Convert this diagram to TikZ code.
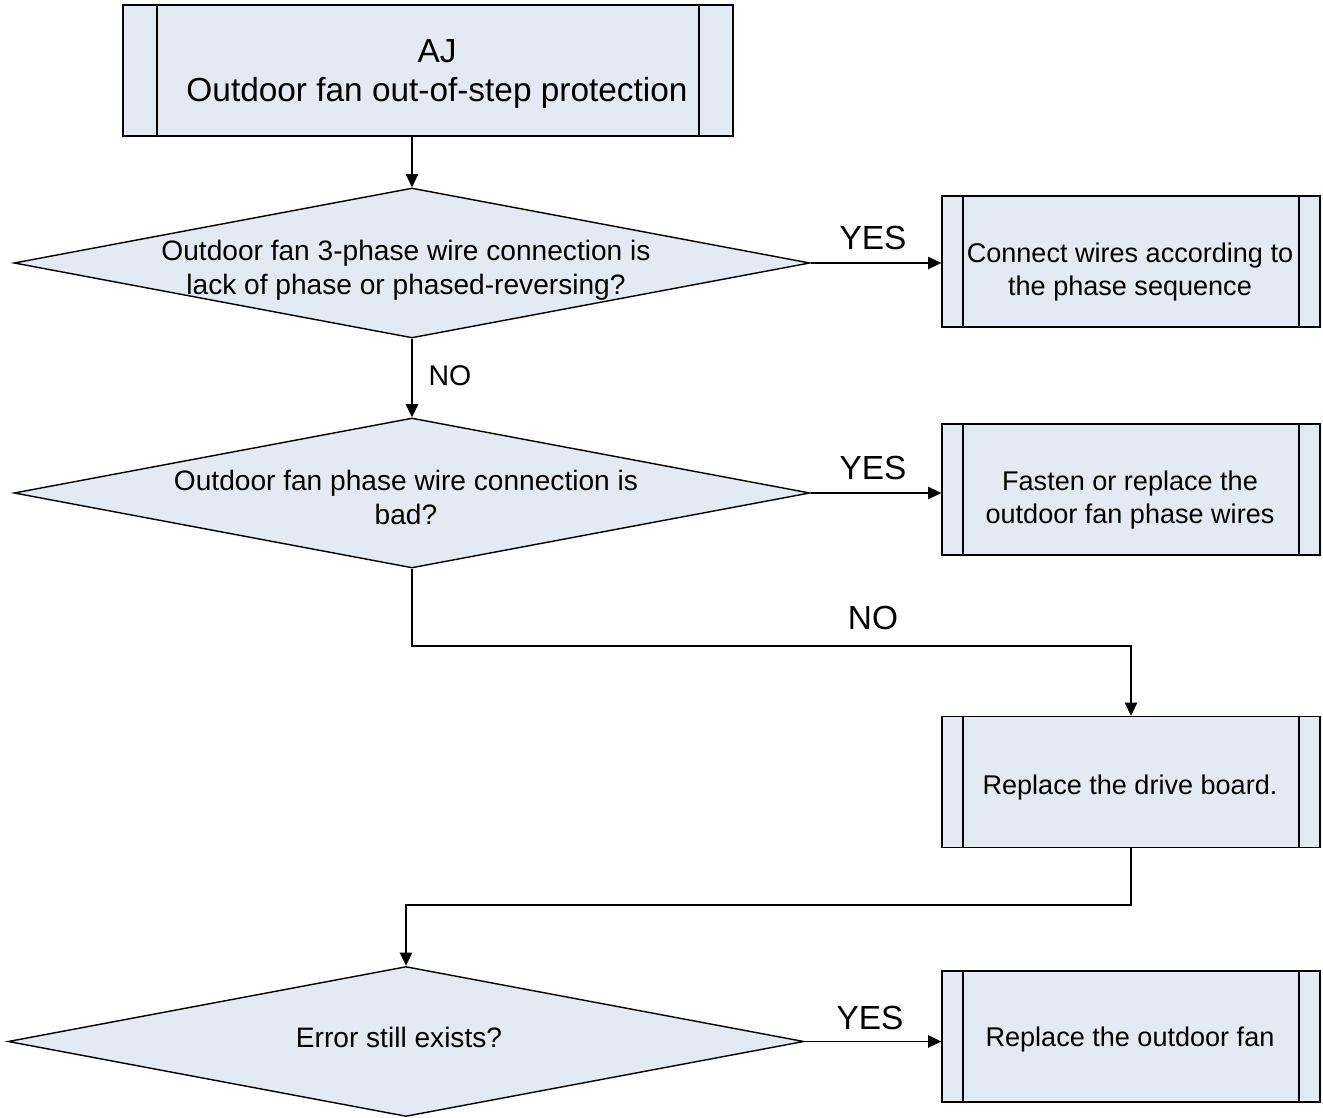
\documentclass[tikz,border=0pt]{standalone}
\usepackage{fontspec}
\setmainfont{Liberation Sans}
\usetikzlibrary{shapes.geometric,arrows.meta}
\definecolor{boxfill}{RGB}{228,234,244}
\begin{document}
\begin{tikzpicture}[x=0.02cm, y=-0.02cm, line width=0.8pt, >={Triangle[length=7.5pt,width=7pt]},
    bars/.style={path picture={
        \draw ([xshift=#1]path picture bounding box.north west) -- ([xshift=#1]path picture bounding box.south west);
        \draw ([xshift=-#1]path picture bounding box.north east) -- ([xshift=-#1]path picture bounding box.south east);}},
    process/.style={draw, fill=boxfill, inner sep=0pt, minimum width=7.56cm, minimum height=2.62cm, bars=0.42cm},
    headbox/.style={draw, fill=boxfill, inner sep=0pt, minimum width=12.2cm, minimum height=2.62cm, bars=0.68cm},
    decision/.style={draw, fill=boxfill, diamond, inner sep=0pt, minimum width=15.92cm, minimum height=3cm},
    headtext/.style={align=center, font=\fontsize{19}{22.7}\selectfont},
    qtext/.style={align=center, font=\fontsize{16}{19.3}\selectfont},
    ptext/.style={align=center, font=\fontsize{15.4}{19.3}\selectfont},
    answer/.style={font=\fontsize{19}{22}\selectfont}]
    \useasboundingbox (0,0) rectangle (1323,1118);
    \node[headbox] (aj) at (428,70.5) {};
    \node[headtext] (ajt) at (437,74) {AJ\\Outdoor fan out-of-step protection};
    \node[decision] (q1) at (412,263) {};
    \node[qtext] (q1t) at (406,270) {Outdoor fan 3-phase wire connection is\\lack of phase or phased-reversing?};
    \node[process] (fix1) at (1131,261.5) {};
    \node[ptext] (fix1t) at (1130,272) {Connect wires according to\\the phase sequence};
    \node[decision] (q2) at (412,493) {};
    \node[qtext] (q2t) at (406,497) {Outdoor fan phase wire connection is\\bad?};
    \node[process] (fix2) at (1131,489.5) {};
    \node[ptext] (fix2t) at (1130,500) {Fasten or replace the\\outdoor fan phase wires};
    \node[process] (board) at (1131,782) {};
    \node[ptext] (boardt) at (1130,788) {Replace the drive board.};
    \node[decision] (q3) at (406,1041.5) {};
    \node[qtext] (q3t) at (399,1037) {Error still exists?};
    \node[process] (fan) at (1131,1036.5) {};
    \node[ptext] (fant) at (1130,1040) {Replace the outdoor fan};
    \node[answer] (yes1) at (873,238) {YES};
    \node[answer] (yes2) at (873,468) {YES};
    \node[answer] (yes3) at (870,1018) {YES};
    \node[font=\fontsize{16.2}{19}\selectfont] (no1) at (450,376) {NO};
    \node[answer] (no2) at (873,618) {NO};
    \coordinate (bend1) at (412,646);
    \coordinate (bend2) at (1131,905);
    \draw[->] (aj.south -| q1.north) -- (q1.north);
    \draw[->] (q1.east) -- (q1.east -| fix1.west);
    \draw[->] (q1.south) -- (q2.north);
    \draw[->] (q2.east) -- (q2.east -| fix2.west);
    \draw[->] (q2.south) -- (bend1) -| (board.north);
    \draw[->] (board.south) -- (bend2) -| (q3.north);
    \draw[->] (q3.east) -- (q3.east -| fan.west);
\end{tikzpicture}
\end{document}
